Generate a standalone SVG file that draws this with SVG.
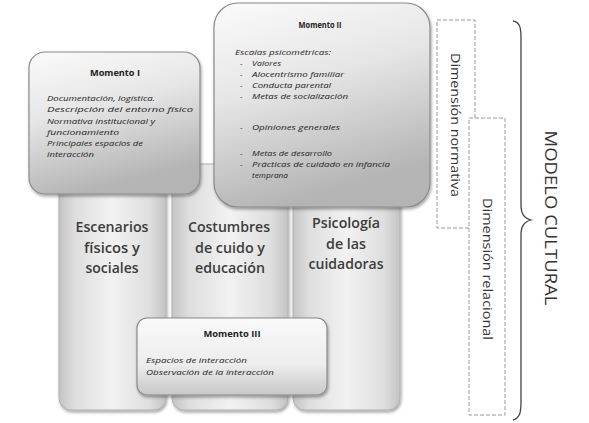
<svg xmlns="http://www.w3.org/2000/svg" width="589" height="423" viewBox="0 0 589 423">
<defs>
<linearGradient id="pillarH" x1="0" y1="0" x2="1" y2="0">
<stop offset="0" stop-color="#c4c4c4"/>
<stop offset="0.15" stop-color="#dedede"/>
<stop offset="0.5" stop-color="#f2f2f2"/>
<stop offset="0.85" stop-color="#dedede"/>
<stop offset="1" stop-color="#c4c4c4"/>
</linearGradient>
<linearGradient id="boxG" x1="0" y1="0" x2="0.3" y2="1">
<stop offset="0" stop-color="#fbfbfb"/>
<stop offset="0.45" stop-color="#e6e6e6"/>
<stop offset="1" stop-color="#b4b4b4"/>
</linearGradient>
<linearGradient id="box3G" x1="0" y1="0" x2="0" y2="1">
<stop offset="0" stop-color="#fafafa"/>
<stop offset="0.6" stop-color="#ededed"/>
<stop offset="1" stop-color="#c8c8c8"/>
</linearGradient>
<filter id="sh" x="-10%" y="-10%" width="130%" height="130%">
<feDropShadow dx="1" dy="2" stdDeviation="1.5" flood-color="#000" flood-opacity="0.35"/>
</filter>
<style>
.pillar{fill:url(#pillarH);stroke:#b0b0b0;stroke-width:1}
.box{fill:url(#boxG);stroke:#8a8a8a;stroke-width:1.2}
.box3{fill:url(#box3G);stroke:#8a8a8a;stroke-width:1.2}
.ptxt{font-family:"Open Sans","Noto Sans",sans-serif;font-size:15px;font-weight:600;fill:#3c3c3c;text-anchor:middle}
.ttl{font-family:"Open Sans","Noto Sans",sans-serif;font-size:8px;font-weight:bold;fill:#222;text-anchor:middle}
.it{font-family:"Open Sans","Noto Sans",sans-serif;font-size:8px;font-style:italic;fill:#222}
.dash{fill:#fff;stroke:#9a9a9a;stroke-width:1;stroke-dasharray:4 2}
.dtxt{font-family:"Open Sans","Noto Sans",sans-serif;font-size:13px;fill:#333;text-anchor:middle}
.mtxt{font-family:"Open Sans","Noto Sans",sans-serif;font-size:15.5px;fill:#333;text-anchor:middle}
</style>
</defs>
<rect width="589" height="423" fill="#fff"/>

<g id="pillar1">
<rect class="pillar" x="59" y="164" width="107" height="246" rx="12" filter="url(#sh)"/>
<text class="ptxt" x="112" y="232" textLength="73" lengthAdjust="spacingAndGlyphs">Escenarios</text>
<text class="ptxt" x="112" y="252.5" textLength="56" lengthAdjust="spacingAndGlyphs">físicos y</text>
<text class="ptxt" x="112" y="273" textLength="53" lengthAdjust="spacingAndGlyphs">sociales</text>
</g>
<g id="pillar2">
<rect class="pillar" x="172" y="164" width="116" height="246" rx="12" filter="url(#sh)"/>
<text class="ptxt" x="229" y="232" textLength="82" lengthAdjust="spacingAndGlyphs">Costumbres</text>
<text class="ptxt" x="230" y="252.5" textLength="70" lengthAdjust="spacingAndGlyphs">de cuido y</text>
<text class="ptxt" x="230" y="273" textLength="70" lengthAdjust="spacingAndGlyphs">educación</text>
</g>
<g id="pillar3">
<rect class="pillar" x="293" y="164" width="107" height="246" rx="12" filter="url(#sh)"/>
<text class="ptxt" x="346" y="228" textLength="68" lengthAdjust="spacingAndGlyphs">Psicología</text>
<text class="ptxt" x="346" y="248.5" textLength="40" lengthAdjust="spacingAndGlyphs">de las</text>
<text class="ptxt" x="346" y="269" textLength="75" lengthAdjust="spacingAndGlyphs">cuidadoras</text>
</g>

<g id="momento1">
<rect class="box" x="29" y="52" width="171" height="142" rx="16" filter="url(#sh)"/>
<text class="ttl" x="115" y="76" textLength="50" lengthAdjust="spacingAndGlyphs">Momento I</text>
<text class="it" x="47" y="101" textLength="108" lengthAdjust="spacingAndGlyphs">Documentación, logística.</text>
<text class="it" x="47" y="112" textLength="146" lengthAdjust="spacingAndGlyphs">Descripción del entorno físico</text>
<text class="it" x="47" y="124" textLength="108" lengthAdjust="spacingAndGlyphs">Normativa institucional y</text>
<text class="it" x="47" y="135" textLength="72" lengthAdjust="spacingAndGlyphs">funcionamiento</text>
<text class="it" x="47" y="146" textLength="96" lengthAdjust="spacingAndGlyphs">Principales espacios de</text>
<text class="it" x="47" y="157" textLength="47" lengthAdjust="spacingAndGlyphs">interacción</text>
</g>

<g id="momento2">
<rect class="box" x="214" y="3" width="216" height="204" rx="24" filter="url(#sh)"/>
<text class="ttl" x="320" y="28" textLength="43" lengthAdjust="spacingAndGlyphs">Momento II</text>
<text class="it" x="235" y="55" textLength="96" lengthAdjust="spacingAndGlyphs">Escalas psicométricas:</text>
<text class="it" x="240" y="66">-</text>
<text class="it" x="252" y="66" textLength="29" lengthAdjust="spacingAndGlyphs">Valores</text>
<text class="it" x="240" y="77">-</text>
<text class="it" x="252" y="77" textLength="92" lengthAdjust="spacingAndGlyphs">Alocentrismo familiar</text>
<text class="it" x="240" y="88">-</text>
<text class="it" x="252" y="88" textLength="79" lengthAdjust="spacingAndGlyphs">Conducta parental</text>
<text class="it" x="240" y="99">-</text>
<text class="it" x="252" y="99" textLength="96" lengthAdjust="spacingAndGlyphs">Metas de socialización</text>
<text class="it" x="240" y="130">-</text>
<text class="it" x="252" y="130" textLength="88" lengthAdjust="spacingAndGlyphs">Opiniones generales</text>
<text class="it" x="240" y="156">-</text>
<text class="it" x="252" y="156" textLength="80" lengthAdjust="spacingAndGlyphs">Metas de desarrollo</text>
<text class="it" x="240" y="167">-</text>
<text class="it" x="252" y="167" textLength="138" lengthAdjust="spacingAndGlyphs">Prácticas de cuidado en infancia</text>
<text class="it" x="252" y="178" textLength="36" lengthAdjust="spacingAndGlyphs">temprana</text>
</g>

<g id="momento3">
<rect class="box3" x="137" y="318" width="190" height="77" rx="10" filter="url(#sh)"/>
<text class="ttl" x="232" y="337" textLength="57" lengthAdjust="spacingAndGlyphs">Momento III</text>
<text class="it" x="146" y="363" textLength="101" lengthAdjust="spacingAndGlyphs">Espacios de interacción</text>
<text class="it" x="146" y="375" textLength="128" lengthAdjust="spacingAndGlyphs">Observación de la interacción</text>
</g>

<g id="dim-normativa">
<rect class="dash" x="437" y="20" width="38" height="208"/>
<text class="dtxt" transform="translate(451,125) rotate(90)" textLength="144" lengthAdjust="spacingAndGlyphs">Dimensión normativa</text>
</g>
<g id="dim-relacional">
<rect class="dash" x="469" y="118" width="36" height="297"/>
<text class="dtxt" transform="translate(483,269) rotate(90)" textLength="142" lengthAdjust="spacingAndGlyphs">Dimensión relacional</text>
</g>

<g id="connectors">
<path d="M513,21 C520,22 521,28 521,38 L521,205 C521,214 524,218 531,220 C524,222 521,226 521,235 L521,402 C521,412 520,418 513,420" fill="none" stroke="#444" stroke-width="1.3"/>
</g>

<g id="modelo">
<text class="mtxt" transform="translate(545,218) rotate(90)" textLength="175" lengthAdjust="spacingAndGlyphs">MODELO CULTURAL</text>
</g>
</svg>
